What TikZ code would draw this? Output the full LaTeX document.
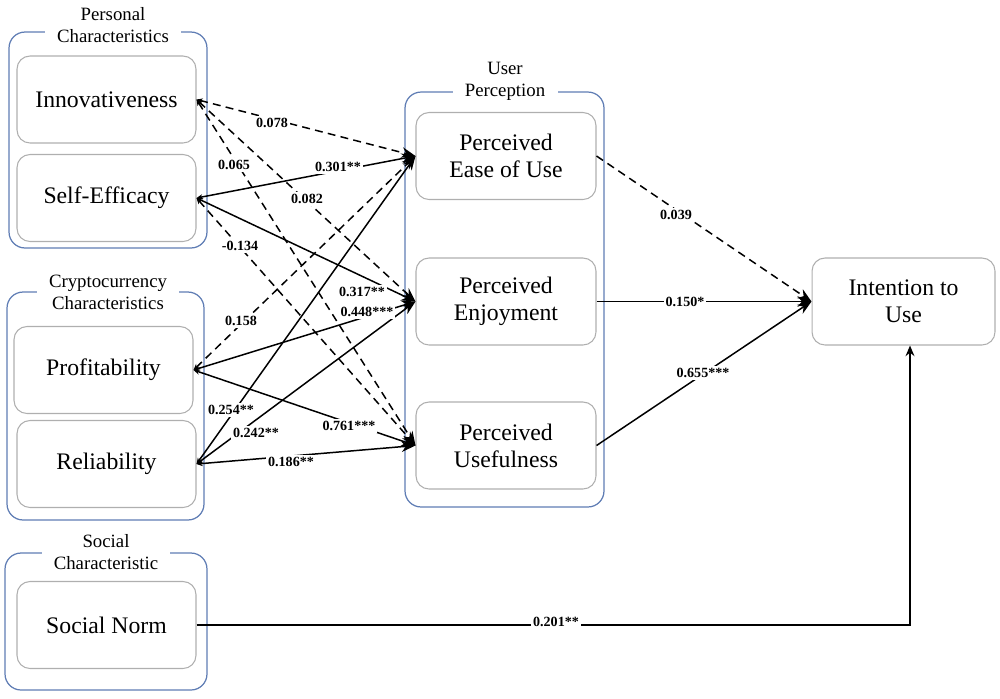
\documentclass[tikz,border=0pt]{standalone}
\usepackage{fontspec}
\setmainfont{Liberation Serif}
\usetikzlibrary{arrows.meta}
\definecolor{grpblue}{RGB}{95,125,180}
\definecolor{boxgray}{RGB}{175,175,175}
\begin{document}
\begin{tikzpicture}[x=0.02cm,y=-0.02cm,
  grp/.style={draw=grpblue, line width=0.7pt, rounded corners=0.32cm, inner sep=0pt},
  box/.style={draw=boxgray, line width=0.6pt, rounded corners=0.26cm, minimum width=3.58cm, minimum height=1.74cm, align=center, font=\fontsize{13.5}{15.5}\selectfont},
  ttl/.style={fill=white, align=center, font=\fontsize{10.7}{12.5}\selectfont, inner xsep=7pt, inner ysep=0.5pt},
  lbl/.style={fill=white, font=\bfseries\fontsize{8}{9}\selectfont, inner sep=1pt},
  sig/.style={line width=0.85pt, {Stealth[length=3.5pt,width=3pt]}-{Stealth[length=8pt,width=6pt]}},
  ns/.style={sig, dash pattern=on 4.5pt off 3pt},
  outsig/.style={line width=0.85pt, -{Stealth[length=8pt,width=6pt]}},
  outns/.style={outsig, dash pattern=on 4.5pt off 3pt}]
\useasboundingbox (0,0) rectangle (1000,698);

% groups
\node[grp, minimum width=3.96cm, minimum height=4.32cm] (gpers) at (108,140) {};
\node[grp, minimum width=3.94cm, minimum height=4.56cm] (gcrypt) at (105.5,406) {};
\node[grp, minimum width=4.04cm, minimum height=2.74cm] (gsoc) at (106,621.5) {};
\node[grp, minimum width=3.98cm, minimum height=8.30cm] (gperc) at (504.5,299.5) {};

\node[ttl] (tpers) at (113,25.5) {Personal\\Characteristics};
\node[ttl] (tcrypt) at (108,292) {Cryptocurrency\\Characteristics};
\node[ttl] (tsoc) at (106,552.5) {Social\\Characteristic};
\node[ttl] (tperc) at (505,81.5) {User\\Perception};

% constructs
\node[box] (inno) at (106.5,99.5) {Innovativeness};
\node[box] (self) at (106.5,198) {Self-Efficacy};
\node[box] (prof) at (103.5,370) {Profitability};
\node[box] (rel) at (106.5,464) {Reliability};
\node[box] (sn) at (106.5,625) {Social Norm};
\node[box, minimum width=3.6cm] (peou) at (506,156) {Perceived\\Ease of Use};
\node[box, minimum width=3.6cm] (pe) at (506,301.5) {Perceived\\Enjoyment};
\node[box, minimum width=3.6cm] (pu) at (506,445.5) {Perceived\\Usefulness};
\node[box, minimum width=3.66cm] (itu) at (903.5,301.5) {Intention to\\Use};

% paths
\draw[ns] (inno.east) -- (peou.west);
\draw[ns] (inno.east) -- (pe.west);
\draw[ns] (inno.east) -- (pu.west);
\draw[sig] (self.east) -- (peou.west);
\draw[sig] (self.east) -- (pe.west);
\draw[ns] (self.east) -- (pu.west);
\draw[ns] (prof.east) -- (peou.west);
\draw[sig] (prof.east) -- (pe.west);
\draw[sig] (prof.east) -- (pu.west);
\draw[sig] (rel.east) -- (peou.west);
\draw[sig] (rel.east) -- (pe.west);
\draw[sig] (rel.east) -- (pu.west);
\draw[outns] (peou.east) -- (itu.west);
\draw[outsig] (pe.east) -- (itu.west);
\draw[outsig] (pu.east) -- (itu.west);
\coordinate (corner) at (910,625);
\draw[line width=1.1pt, -{Stealth[length=6pt,width=5pt]}] (sn.east) -- (corner) -- (corner |- itu.south);

% labels
\node[lbl] (l1) at (272,123) {0.078};
\node[lbl] (l2) at (234,165) {0.065};
\node[lbl] (l3) at (338,167) {0.301**};
\node[lbl] (l4) at (307,199) {0.082};
\node[lbl] (l5) at (240,246) {-0.134};
\node[lbl] (l6) at (362,292) {0.317**};
\node[lbl] (l7) at (367,312) {0.448***};
\node[lbl] (l8) at (241,321) {0.158};
\node[lbl] (l9) at (231,410) {0.254**};
\node[lbl] (l10) at (256,433) {0.242**};
\node[lbl] (l11) at (349,426) {0.761***};
\node[lbl] (l12) at (291,462) {0.186**};
\node[lbl] (l13) at (676,215) {0.039};
\node[lbl] (l14) at (685,302) {0.150*};
\node[lbl] (l15) at (703,373) {0.655***};
\node[lbl] (l16) at (556,622) {0.201**};
\end{tikzpicture}
\end{document}
